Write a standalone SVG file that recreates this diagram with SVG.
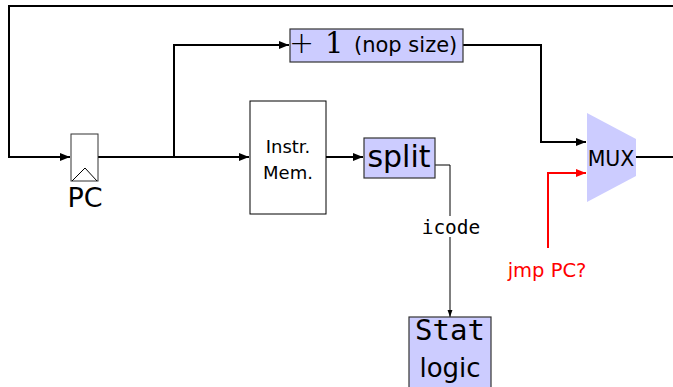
<svg xmlns="http://www.w3.org/2000/svg" width="673" height="387" viewBox="0 0 673 387">
<defs>
<style>
.w{fill:none;stroke:#000;stroke-width:2}
.t{fill:none;stroke:#000;stroke-width:1}
.r{fill:none;stroke:#f00;stroke-width:2}
.blk{fill:#ccf;stroke:#333;stroke-width:1.2}
.sans{font-family:"DejaVu Sans",sans-serif}
.mono{font-family:"DejaVu Sans Mono",monospace}
.serif{font-family:"DejaVu Serif",serif}
</style>
<marker id="ah" viewBox="0 0 10 10" refX="10" refY="5" markerWidth="5" markerHeight="5" markerUnits="strokeWidth" orient="auto"><path d="M0,1 L10,5 L0,9 Z" fill="#000"/></marker>
<marker id="ahs" viewBox="0 0 10 10" refX="10" refY="5" markerWidth="7" markerHeight="7" markerUnits="strokeWidth" orient="auto"><path d="M0,1.5 L10,5 L0,8.5 Z" fill="#000"/></marker>
<marker id="ahr" viewBox="0 0 10 10" refX="10" refY="5" markerWidth="5" markerHeight="5" markerUnits="strokeWidth" orient="auto"><path d="M0,1 L10,5 L0,9 Z" fill="#f00"/></marker>
</defs>
<g id="connectors">
<path class="w" d="M673,6 H9 V157 H70" marker-end="url(#ah)"/>
<path class="w" d="M98,157 H249" marker-end="url(#ah)"/>
<path class="w" d="M174,157 V45 H289" marker-end="url(#ah)"/>
<path class="w" d="M326,157 H363" marker-end="url(#ah)"/>
<path class="w" d="M463,45 H541 V142 H586" marker-end="url(#ah)"/>
<path class="w" d="M636,157 H673"/>
<path class="t" d="M435,165 H450 V216"/>
<path class="t" d="M450,237 V317" marker-end="url(#ahs)"/>
<path class="r" d="M548,248 V173 H586" marker-end="url(#ahr)"/>
</g>
<g id="pc">
<rect x="71" y="134" width="27" height="47" fill="#fff" stroke="#333" stroke-width="1"/>
<path d="M72,181 L85,168 L97,181" fill="none" stroke="#000" stroke-width="1"/>
<text x="85" y="207" class="sans" font-size="27" text-anchor="middle">PC</text>
</g>
<g id="plus1">
<rect class="blk" x="290" y="29" width="173" height="33"/>
<text x="289" y="53" class="sans" font-size="30" font-weight="200">+</text>
<text x="325" y="53" class="serif" font-size="29" font-weight="normal">1</text>
<text x="354" y="52" class="sans" font-size="21">(nop size)</text>
</g>
<g id="imem">
<rect x="250" y="101" width="76" height="113" fill="#fff" stroke="#000" stroke-width="1"/>
<text x="288" y="153" class="sans" font-size="18" text-anchor="middle">Instr.</text>
<text x="288" y="179" class="sans" font-size="18" text-anchor="middle">Mem.</text>
</g>
<g id="split">
<rect class="blk" x="364" y="138" width="71" height="40"/>
<text x="399" y="167" class="sans" font-size="30" text-anchor="middle">split</text>
</g>
<g id="icode-label">
<text x="451" y="234" class="mono" font-size="19.5" text-anchor="middle">icode</text>
</g>
<g id="stat">
<rect class="blk" x="409" y="317" width="82" height="72"/>
<text x="450" y="340" class="mono" font-size="29" text-anchor="middle">Stat</text>
<text x="450" y="377" class="sans" font-size="26" text-anchor="middle">logic</text>
</g>
<g id="mux">
<path d="M587,113 L636,139 L636,176 L587,202 Z" fill="#ccf"/>
<text x="611" y="166" class="sans" font-size="20.5" text-anchor="middle">MUX</text>
</g>
<g id="jmp-label">
<text x="547" y="277" class="sans" font-size="19.5" fill="#f00" text-anchor="middle">jmp PC?</text>
</g>
</svg>
